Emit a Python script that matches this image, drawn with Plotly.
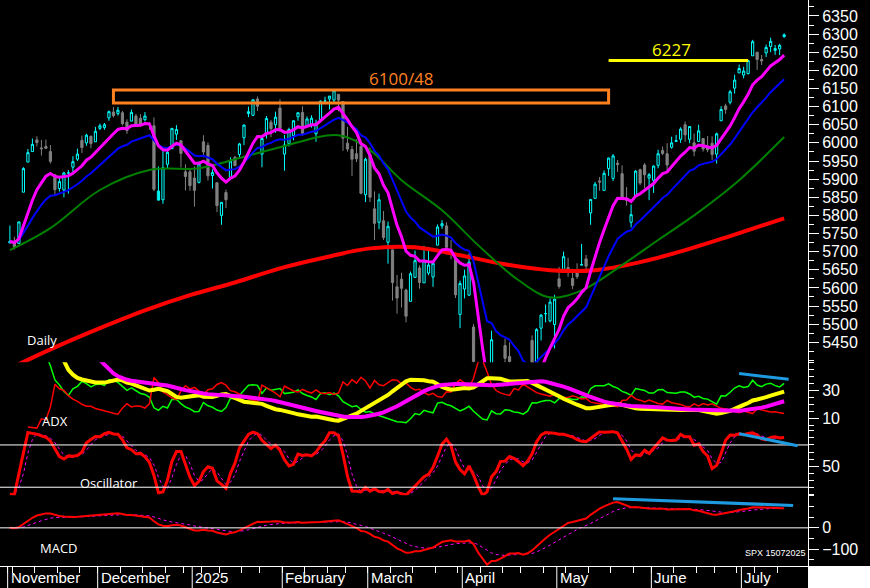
import numpy as np
import pandas as pd
import plotly.graph_objects as go
from plotly.subplots import make_subplots

# SPX daily, 1 Nov 2024 - 15 Jul 2025 (read off the chart / approx)
holidays = ['2024-11-28', '2024-12-25', '2025-01-01', '2025-01-09', '2025-01-20',
            '2025-02-17', '2025-04-18', '2025-05-26', '2025-06-19', '2025-07-04']
dates = [d for d in pd.bdate_range('2024-11-01', '2025-07-15') if d.strftime('%Y-%m-%d') not in holidays]

opens = [5724,5724,5722,5864,5947,5976,6008,5986,5990,5976,5912,5874,5870,5917,5933,5955,6007,6000,6018,6003,
         6040,6042,6069,6085,6081,6083,6057,6060,6074,6068,6064,6052,6047,5842,5843,5941,5984,6024,6006,5920,5920,
         5903,5891,6003,5993,5910,5890,5800,5863,5905,5960,5968,6014,6081,6076,6121,5969,6026,6057,6050,6096,
         5969,5998,6020,6072,6084,6046,6049,6025,6063,6115,6121,6118,6134,6114,5999,5982,5970,5990,5857,
         5968,5818,5781,5785,5726,5705,5603,5624,5594,5563,5629,5655,5614,5641,5630,5718,5771,5771,5695,5679,5527,
         5597,5580,5492,5292,4953,5193,4966,5354,5255,5441,5411,5335,5305,5232,5207,5455,5381,5489,5529,5509,5499,
         5625,5645,5656,5626,5644,5663,5680,5807,5847,5895,5869,5929,5902,5944,5915,5842,5781,5855,5926,5939,5903,
         5897,5938,5979,5970,5988,6004,6010,6050,6010,6000,6004,6012,5987,5999,5969,6061,6102,6112,6151,6193,
         6187,6191,6240,6250,6230,6248,6266,6255,6259,6293]
highs = [5772,5741,5783,5933,5983,6012,6018,6008,6009,5994,5913,5909,5920,5925,5963,5984,6020,6025,6020,6044,
         6053,6055,6089,6099,6099,6088,6065,6092,6080,6079,6085,6057,6070,5935,5982,5979,6040,6049,6007,5941,5929,
         5935,5949,6021,6001,5927,5890,5836,5871,5960,5964,6000,6051,6100,6119,6128,6018,6074,6063,6086,6120,
         6022,6042,6062,6084,6101,6073,6076,6064,6117,6127,6129,6148,6134,6115,6044,5992,6010,5994,5959,
         5987,5866,5860,5812,5783,5705,5636,5642,5598,5645,5703,5662,5716,5711,5670,5775,5787,5781,5732,5686,5620,
         5650,5695,5500,5292,5246,5267,5482,5354,5370,5460,5450,5367,5328,5232,5300,5469,5489,5528,5554,5571,5581,
         5658,5700,5683,5653,5668,5721,5691,5844,5892,5906,5924,5959,5969,5953,5938,5878,5830,5925,5929,5944,5917,
         5938,5981,5990,5999,6017,6022,6043,6059,6045,6026,6050,6012,6019,6018,6028,6101,6108,6146,6188,6216,
         6210,6228,6284,6250,6242,6271,6290,6270,6273,6302]
lows = [5723,5706,5722,5864,5947,5976,5990,5965,5983,5943,5853,5866,5850,5860,5913,5950,5972,5992,5985,6003,
        6035,6036,6061,6070,6075,6048,6025,6060,6050,6045,6059,6036,5867,5866,5832,5928,5983,6008,5932,5869,5868,
        5824,5888,5960,5896,5874,5809,5774,5820,5904,5937,5960,5994,6071,6074,6088,5933,6012,6016,6028,6030,
        5923,5990,6007,6061,6019,6045,6042,6003,6063,6109,6092,6111,6087,5978,5976,5909,5947,5858,5837,
        5837,5732,5762,5732,5667,5565,5529,5546,5505,5563,5628,5598,5614,5635,5603,5718,5763,5692,5679,5572,5489,
        5571,5578,5390,5069,4835,4910,4949,5115,5220,5370,5387,5220,5255,5101,5207,5345,5372,5455,5505,5505,5433,
        5598,5645,5631,5597,5625,5663,5643,5774,5847,5868,5869,5909,5895,5920,5842,5827,5767,5855,5883,5875,5842,
        5862,5930,5966,5921,5984,6004,6000,6003,5999,5963,6004,5976,5974,5953,5943,6061,6080,6106,6136,6193,
        6178,6189,6240,6201,6215,6237,6250,6243,6242,6290]
closes = [5728,5712,5782,5929,5973,5996,6001,5984,5985,5949,5871,5893,5917,5917,5948,5969,5987,6021,5998,6032,
          6047,6050,6086,6075,6090,6053,6034,6084,6051,6051,6074,6050,5872,5867,5931,5974,6040,6037,5971,5907,5882,
          5869,5942,5975,5909,5918,5827,5836,5843,5950,5937,5997,6049,6086,6119,6101,6012,6067,6039,6071,6040,
          5994,6037,6061,6083,6026,6066,6068,6052,6115,6115,6129,6144,6118,6013,5983,5955,5956,5861,5955,
          5850,5778,5843,5739,5770,5615,5572,5599,5522,5639,5675,5615,5675,5663,5668,5768,5777,5712,5693,5581,5612,
          5633,5671,5397,5074,5062,4982,5457,5268,5363,5406,5397,5276,5283,5158,5288,5376,5485,5525,5529,5561,5569,
          5604,5686,5650,5607,5631,5664,5660,5844,5886,5892,5916,5958,5964,5940,5845,5842,5802,5922,5889,5912,5912,
          5936,5970,5971,5939,6000,6006,6038,6022,6045,5977,6033,5983,5981,5968,6025,6092,6092,6141,6173,6205,
          6198,6227,6279,6230,6226,6263,6280,6260,6269,6298]

# long moving averages (bar index, value)
ma200_idx = [0, 10, 20, 30, 40, 50, 60, 70, 80, 90, 100, 110, 120, 130, 140, 150, 160, 172]
ma200_val = [5378, 5436, 5489, 5538, 5580, 5615, 5654, 5684, 5709, 5712, 5690, 5665, 5649, 5649, 5671, 5704, 5743, 5792]
ma50_idx = [0, 9, 20, 31, 42, 51, 60, 73, 80, 87, 96, 104, 113, 120, 127, 136, 144, 153, 162, 172]
ma50_val = [5704, 5765, 5870, 5925, 5930, 5958, 5988, 6021, 5980, 5897, 5814, 5718, 5621, 5574, 5593, 5663, 5732, 5809, 5897, 6016]

month_labels = ['November', 'December', '2025', 'February', 'March', 'April', 'May', 'June', 'July']

df = pd.DataFrame({'o': opens, 'h': highs, 'l': lows, 'c': closes}, index=dates)
x = np.arange(len(df))

ema_fast = df.c.ewm(span=10, adjust=False).mean()
ema_mid = df.c.ewm(span=20, adjust=False).mean()

# DMI / ADX
up = df.h.diff()
dn = -df.l.diff()
pdm = np.where((up > dn) & (up > 0), up, 0.0)
mdm = np.where((dn > up) & (dn > 0), dn, 0.0)
tr = pd.concat([df.h - df.l, (df.h - df.c.shift()).abs(), (df.l - df.c.shift()).abs()], axis=1).max(axis=1)
atr = tr.ewm(alpha=1/14).mean()
pdi = 100 * pd.Series(pdm, index=df.index).ewm(alpha=1/14).mean() / atr
mdi = 100 * pd.Series(mdm, index=df.index).ewm(alpha=1/14).mean() / atr
dx = 100 * (pdi - mdi).abs() / (pdi + mdi)
adx = dx.ewm(alpha=1/14).mean()
adxr = adx.rolling(14, min_periods=1).mean()
w = slice(4, None)  # skip indicator warm-up bars

# stochastic
ll = df.l.rolling(12, min_periods=1).min()
hh = df.h.rolling(12, min_periods=1).max()
k = (100 * (df.c - ll) / (hh - ll)).rolling(3, min_periods=1).mean()
d = k.rolling(3, min_periods=1).mean()

# MACD
macd = df.c.ewm(span=12, adjust=False).mean() - df.c.ewm(span=26, adjust=False).mean()
sig = macd.ewm(span=9, adjust=False).mean()

fig = make_subplots(rows=4, cols=1, shared_xaxes=True, vertical_spacing=0,
                    row_heights=[0.64, 0.12, 0.115, 0.125])
fig.add_trace(go.Candlestick(x=x, open=df.o, high=df.h, low=df.l, close=df.c, whiskerwidth=0,
                             increasing=dict(line=dict(color='#00ffff', width=1), fillcolor='black'),
                             decreasing=dict(line=dict(color='#808080', width=1), fillcolor='#808080')), 1, 1)
fig.add_trace(go.Scatter(x=ma200_idx, y=ma200_val, mode='lines', line=dict(color='#ff0000', width=4, shape='spline')), 1, 1)
fig.add_trace(go.Scatter(x=ma50_idx, y=ma50_val, mode='lines', line=dict(color='#008000', width=2, shape='spline')), 1, 1)
fig.add_trace(go.Scatter(x=x, y=ema_mid, mode='lines', line=dict(color='#0000ff', width=2)), 1, 1)
fig.add_trace(go.Scatter(x=x, y=ema_fast, mode='lines', line=dict(color='#ff00ff', width=3)), 1, 1)

fig.add_trace(go.Scatter(x=x[w], y=pdi[w], mode='lines', line=dict(color='#00ff00', width=1.5)), 2, 1)
fig.add_trace(go.Scatter(x=x[w], y=mdi[w], mode='lines', line=dict(color='#ff0000', width=1.5)), 2, 1)
fig.add_trace(go.Scatter(x=x[w], y=adx[w], mode='lines', line=dict(color='#ffff00', width=4)), 2, 1)
fig.add_trace(go.Scatter(x=x[w], y=adxr[w], mode='lines', line=dict(color='#ff00ff', width=4)), 2, 1)

fig.add_trace(go.Scatter(x=x, y=d, mode='lines', line=dict(color='#ff00ff', width=1, dash='dot')), 3, 1)
fig.add_trace(go.Scatter(x=x, y=k, mode='lines', line=dict(color='#ff0000', width=3)), 3, 1)

fig.add_trace(go.Scatter(x=x, y=sig, mode='lines', line=dict(color='#ff00ff', width=1, dash='dot')), 4, 1)
fig.add_trace(go.Scatter(x=x, y=macd, mode='lines', line=dict(color='#ff0000', width=2)), 4, 1)

# reference lines
for yv, ref in [(80, 'y3'), (20, 'y3'), (0, 'y4')]:
    fig.add_shape(type='line', xref='paper', x0=0, x1=1, yref=ref, y0=yv, y1=yv,
                  line=dict(color='white', width=1))

# analyst drawings
fig.add_shape(type='rect', xref='x', yref='y', x0=23, x1=133, y0=6110, y1=6146,
              line=dict(color='#ff8020', width=3))
fig.add_shape(type='line', xref='x', yref='y', x0=133, x1=164, y0=6227, y1=6227,
              line=dict(color='#ffff00', width=3))
fig.add_shape(type='line', xref='x', yref='y2', x0=162, x1=173, y0=42, y1=38,
              line=dict(color='#1e9be0', width=3))
fig.add_shape(type='line', xref='x', yref='y3', x0=162, x1=175, y0=96, y1=79,
              line=dict(color='#1e9be0', width=3))
fig.add_shape(type='line', xref='x', yref='y4', x0=134, x1=174, y0=137, y1=105,
              line=dict(color='#1e9be0', width=3))

lab = dict(family='Open Sans', size=13, color='white')
fig.add_annotation(x=87, y=6178, xref='x', yref='y', text='6100/48', showarrow=False,
                   font=dict(family='Open Sans', size=17, color='#ff8020'))
fig.add_annotation(x=147, y=6258, xref='x', yref='y', text='6227', showarrow=False,
                   font=dict(family='Open Sans', size=17, color='#ffff00'))
for txt, px_, py_ in [('Daily', 25, 340), ('ADX', 40, 421), ('Oscillator', 78, 483), ('MACD', 38, 548)]:
    fig.add_annotation(x=px_ / 808, y=1 - py_ / 566, xref='paper', yref='paper', text=txt,
                       showarrow=False, xanchor='left', yanchor='middle', font=lab)
fig.add_annotation(x=743 / 808, y=1 - 553 / 566, xref='paper', yref='paper', text='SPX 15072025',
                   showarrow=False, xanchor='left', yanchor='middle',
                   font=dict(family='Liberation Sans', size=9, color='white'))

# month labels / separators on the time axis
month_start = [int(np.argmax(df.index.month == m)) for m in [11, 12, 1, 2, 3, 4, 5, 6, 7]]
for i, name in zip(month_start, month_labels):
    fig.add_shape(type='line', xref='x', yref='paper', x0=i - 0.5, x1=i - 0.5, y0=0, y1=-22 / 566,
                  line=dict(color='white', width=1))
    fig.add_annotation(x=i - 0.3, y=-11 / 566, xref='x', yref='paper', text=name, showarrow=False,
                       xanchor='left', yanchor='middle',
                       font=dict(family='Liberation Sans', size=15, color='white'))
fig.add_shape(type='rect', xref='paper', yref='paper', x0=1, x1=1.1, y0=-0.05, y1=0,
              fillcolor='white', line_width=0)

weeks = [i for i in range(len(df)) if i == 0 or df.index[i].weekday() < df.index[i - 1].weekday()]
ax = dict(showgrid=False, zeroline=False, color='white', linecolor='white', showline=True,
          ticks='outside', tickcolor='white', mirror=False, automargin=False)
fig.update_xaxes(showgrid=False, zeroline=False, range=[-2.2, 177.3], rangeslider_visible=False,
                 showticklabels=False)
fig.update_xaxes(row=4, col=1, showline=True, linecolor='white', ticks='outside', tickcolor='white',
                 ticklen=6, tickvals=[v - 0.5 for v in weeks])
tickfont = dict(family='Liberation Sans', size=16, color='white')
fig.update_yaxes(side='right', tickfont=tickfont, **ax)
fig.update_yaxes(row=1, col=1, range=[5395, 6394], tickvals=list(range(5450, 6351, 50)),
                 minor=dict(dtick=25, ticks='outside', tickcolor='white', ticklen=5), ticklen=10)
fig.update_yaxes(row=2, col=1, range=[2, 50], tickvals=[30, 10], minor=dict(dtick=5, ticks='outside',
                 tickcolor='white', ticklen=5), ticklen=10)
fig.update_yaxes(row=3, col=1, range=[8.6, 101], tickvals=[50], minor=dict(dtick=10, ticks='outside',
                 tickcolor='white', ticklen=5), ticklen=10)
fig.update_yaxes(row=4, col=1, range=[-179, 153], tickvals=[0, -100], minor=dict(dtick=50, ticks='outside',
                 tickcolor='white', ticklen=5), ticklen=10)

fig.update_layout(width=870, height=588, margin=dict(l=0, r=62, t=0, b=22),
                  paper_bgcolor='black', plot_bgcolor='black', showlegend=False)
fig.write_html("out.html", config={'displayModeBar': False},
               post_script="document.body.style.margin='0';document.body.style.background='black';")
